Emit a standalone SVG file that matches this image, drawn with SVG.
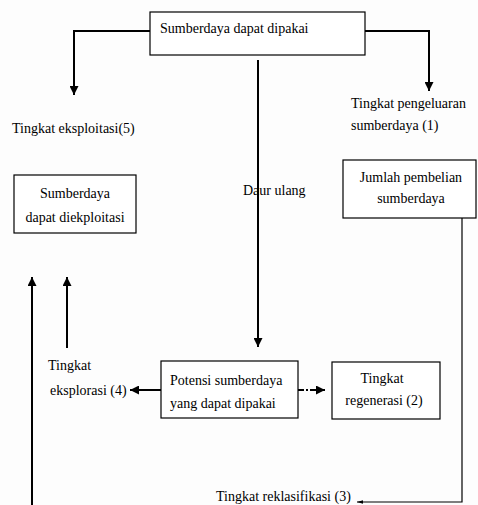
<svg xmlns="http://www.w3.org/2000/svg" width="478" height="505" viewBox="0 0 478 505" font-family="Liberation Serif, Times New Roman, DejaVu Serif, serif">
<style>
.bg{fill:#fdfdfd}
.box{fill:#ffffff;stroke:#000;stroke-width:1.2}
.t{font-family:'Liberation Serif','Times New Roman','DejaVu Serif',serif;font-size:14px;fill:#000}
.c{text-anchor:middle}
.ln{fill:none;stroke:#000;stroke-width:2}
.thin{fill:none;stroke:#000;stroke-width:1.2}
</style>
<defs>
<marker id="ah" viewBox="0 0 10 10" refX="10" refY="5" markerWidth="4.5" markerHeight="4.5" orient="auto" markerUnits="strokeWidth">
<path d="M0,0 L10,5 L0,10 z" fill="#000"/>
</marker>
<marker id="ahs" viewBox="0 0 10 10" refX="10" refY="5" markerWidth="5" markerHeight="5" orient="auto" markerUnits="strokeWidth">
<path d="M0,2 L10,5 L0,8 z" fill="#000"/>
</marker>
</defs>
<rect class="bg" x="0" y="0" width="478" height="505"/>
<g id="connectors">
<path class="ln" d="M150,31 H74 V95" marker-end="url(#ah)"/>
<path class="ln" d="M365,31 H429 V91" marker-end="url(#ah)"/>
<path class="ln" d="M258,60 V347" marker-end="url(#ah)"/>
<path class="ln" d="M161,390 H130" marker-end="url(#ah)"/>
<path class="ln" d="M298,390 H325" stroke-dasharray="6,2,2,2" marker-end="url(#ah)"/>
<path class="ln" d="M67,348 V277" marker-end="url(#ah)"/>
<path class="ln" d="M32,505 V277" marker-end="url(#ah)"/>
<path class="thin" d="M462,218 V502 H357" marker-end="url(#ahs)"/>
</g>
<g id="n-sumberdaya-dipakai">
<rect class="box" x="150" y="12" width="215" height="43"/>
<text class="t" x="160" y="33">Sumberdaya dapat dipakai</text>
</g>
<g id="n-eksploitasi">
<text class="t" x="12" y="133">Tingkat eksploitasi(5)</text>
</g>
<g id="n-pengeluaran">
<text class="t" x="351" y="108">Tingkat pengeluaran</text>
<text class="t" x="351" y="130">sumberdaya (1)</text>
</g>
<g id="n-diekploitasi">
<rect class="box" x="14" y="175" width="122" height="58"/>
<text class="t c" x="75" y="198">Sumberdaya</text>
<text class="t c" x="75" y="222">dapat diekploitasi</text>
</g>
<g id="n-daur-ulang">
<text class="t" x="243" y="195">Daur ulang</text>
</g>
<g id="n-pembelian">
<rect class="box" x="343" y="160" width="133" height="58"/>
<text class="t c" x="411" y="182">Jumlah pembelian</text>
<text class="t c" x="411" y="203">sumberdaya</text>
</g>
<g id="n-eksplorasi">
<text class="t" x="48" y="370">Tingkat</text>
<text class="t" x="50" y="395">eksplorasi (4)</text>
</g>
<g id="n-potensi">
<rect class="box" x="161" y="361" width="137" height="57"/>
<text class="t" x="170" y="385">Potensi sumberdaya</text>
<text class="t" x="170" y="408">yang dapat dipakai</text>
</g>
<g id="n-regenerasi">
<rect class="box" x="332" y="362" width="108" height="57"/>
<text class="t c" x="382" y="383">Tingkat</text>
<text class="t c" x="384" y="405">regenerasi (2)</text>
</g>
<g id="n-reklasifikasi">
<text class="t" x="216" y="501">Tingkat reklasifikasi (3)</text>
</g>
</svg>
